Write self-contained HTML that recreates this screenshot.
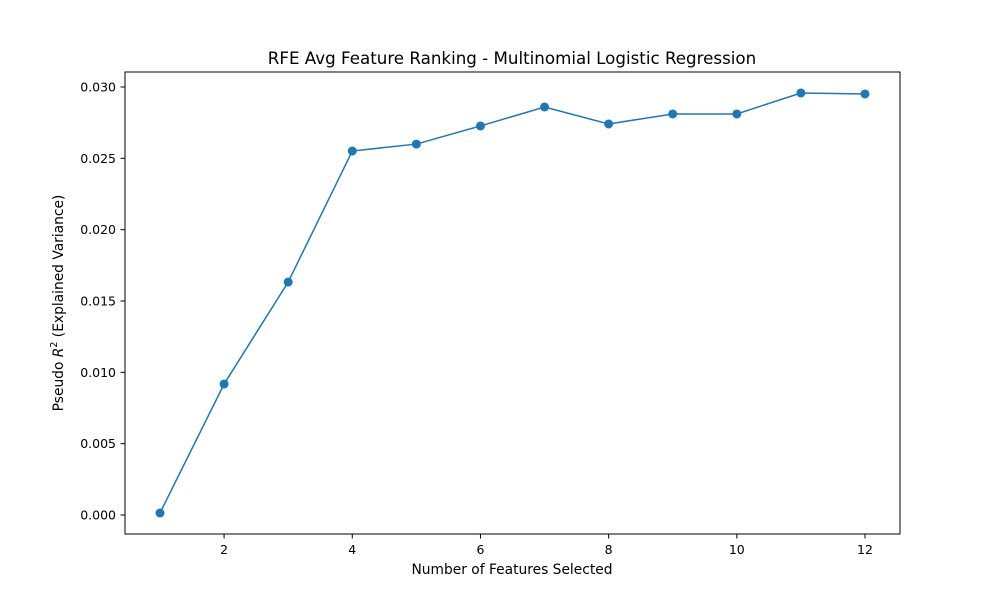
<!DOCTYPE html>
<html><head><meta charset="utf-8"><style>
body{margin:0;background:#fff;font-family:"Liberation Sans","DejaVu Sans",sans-serif;}
svg text{font-family:"DejaVu Sans","Liberation Sans",sans-serif;fill:#000;}
</style></head><body>
<svg id="chart" width="1000" height="600">
<rect x="0" y="0" width="1000" height="600" fill="#fff"/>
<text x="512" y="64" font-size="16.7" text-anchor="middle">RFE Avg Feature Ranking - Multinomial Logistic Regression</text>
<g id="axes"></g>
<text x="512" y="574" font-size="13.8" text-anchor="middle">Number of Features Selected</text>
<text transform="translate(63,303) rotate(-90)" font-size="13.8" text-anchor="middle">Pseudo <tspan font-style="italic">R</tspan><tspan font-size="9.5" dy="-6">2</tspan><tspan dy="6"> (Explained Variance)</tspan></text>
<rect x="125" y="72" width="775" height="462" fill="none" stroke="#000" stroke-width="1"/>
</svg>
<script>
const features=[1,2,3,4,5,6,7,8,9,10,11,12];
const r2=[0.00014,0.00918,0.01633,0.02551,0.02600,0.02727,0.02860,0.02741,0.02811,0.02811,0.02958,0.02951];
const xTicks=[2,4,6,8,10,12];
const yTicks=[0,0.005,0.010,0.015,0.020,0.025,0.030];
const NS='http://www.w3.org/2000/svg';
const g=document.getElementById('axes');
function xs(v){return 160+(v-1)*(865-160)/11;}
function ys(v){return 515-v*(515-87)/0.03;}
function mk(t,a){const e=document.createElementNS(NS,t);for(const k in a)e.setAttribute(k,a[k]);g.appendChild(e);return e;}
xTicks.forEach(v=>{
 const l=mk('line',{x1:xs(v),x2:xs(v),y1:534,y2:538.5,stroke:'#000'});
 
 
 const t=mk('text',{x:xs(v),y:554,'font-size':12.5,'text-anchor':'middle'});t.textContent=v;
 
 
});
yTicks.forEach(v=>{
 const l=mk('line',{x1:120.5,x2:125,y1:ys(v),y2:ys(v),stroke:'#000'});
 
 
 const t=mk('text',{x:116,y:ys(v)+4.5,'font-size':12.5,'text-anchor':'end'});t.textContent=v.toFixed(3);
 
 
});
const line=mk('polyline',{points:features.map((f,i)=>xs(f)+','+ys(r2[i])).join(' '),fill:'none',stroke:'#1f77b4','stroke-width':1.5});


features.forEach((f,i)=>{
 const c=mk('circle',{cx:xs(f),cy:ys(r2[i]),r:4.5,fill:'#1f77b4'});
 
 
});
</script>
</body></html>
